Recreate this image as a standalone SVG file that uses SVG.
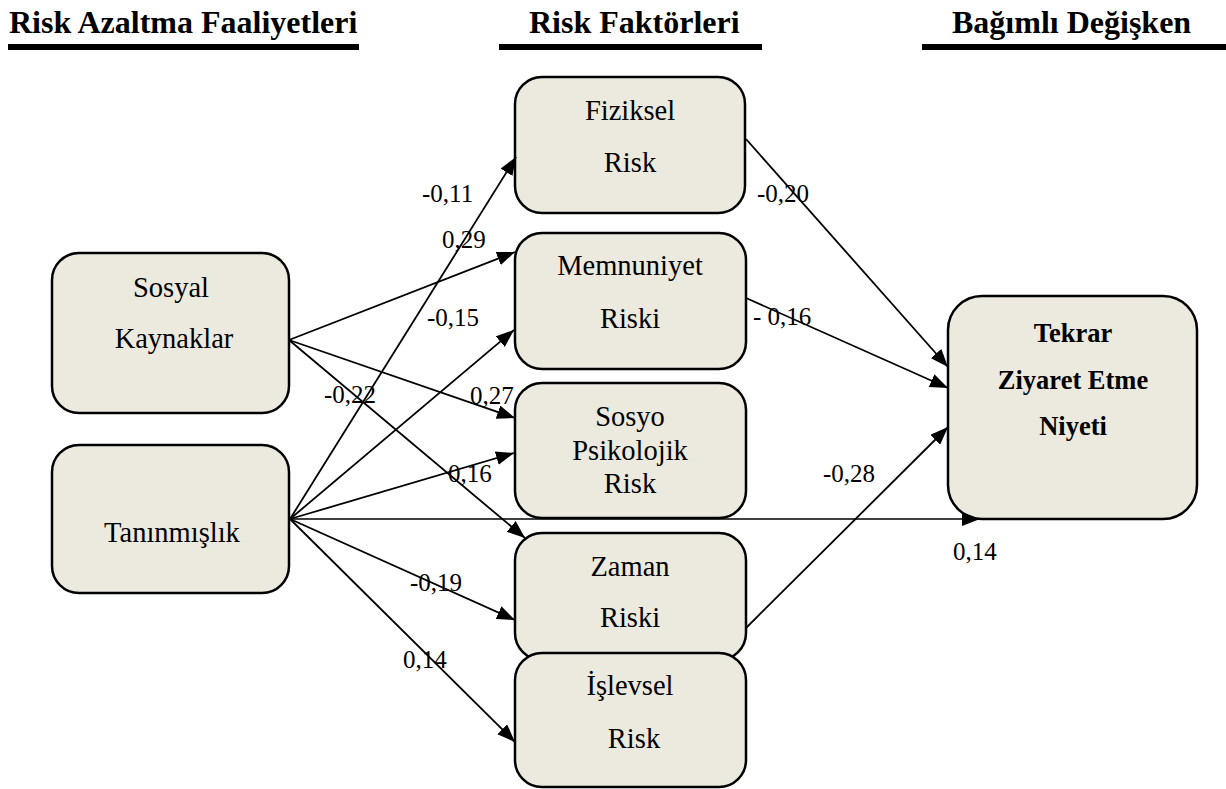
<svg xmlns="http://www.w3.org/2000/svg" width="1226" height="789" viewBox="0 0 1226 789">
  <style>
    .hdr { font-weight: bold; font-size: 32px; }
    .bar { fill: #000; }
    .box { fill: #ECE9DF; stroke: #000; stroke-width: 2.5; }
    .txt { font-size: 28.5px; text-anchor: middle; }
    .btxt { font-size: 26.5px; font-weight: bold; text-anchor: middle; }
    .lbl { font-size: 25px; }
    .edge { stroke: #000; stroke-width: 1.8; fill: none; marker-end: url(#arrow); }
  </style>
  <defs>
    <marker id="arrow" markerUnits="userSpaceOnUse" markerWidth="18" markerHeight="14" refX="18" refY="7" orient="auto">
      <path d="M0,0 L18,7 L0,14 z" fill="#000"/>
    </marker>
  </defs>
  <rect width="1226" height="789" fill="#fff"/>

  <g font-family="Liberation Serif, Times New Roman, serif" fill="#000">
  <!-- column headings -->
  <g id="headers">
    <text class="hdr" x="9" y="33">Risk Azaltma Faaliyetleri</text>
    <rect class="bar" x="8" y="44" width="351" height="6"/>
    <text class="hdr" x="529" y="33">Risk Faktörleri</text>
    <rect class="bar" x="499" y="44" width="263" height="6"/>
    <text class="hdr" x="952" y="33">Bağımlı Değişken</text>
    <rect class="bar" x="922" y="44" width="304" height="6"/>
  </g>

  <!-- independent variables -->
  <g id="sosyal-kaynaklar">
    <rect class="box" x="52" y="253" width="237" height="160" rx="27"/>
    <text class="txt" x="171" y="297">Sosyal</text>
    <text class="txt" x="174" y="348">Kaynaklar</text>
  </g>
  <g id="taninmislik">
    <rect class="box" x="52" y="445" width="237" height="148" rx="27"/>
    <text class="txt" x="172" y="542">Tanınmışlık</text>
  </g>

  <!-- risk factors -->
  <g id="fiziksel-risk">
    <rect class="box" x="515" y="77" width="230" height="136" rx="27"/>
    <text class="txt" x="630" y="120">Fiziksel</text>
    <text class="txt" x="630" y="172">Risk</text>
  </g>
  <g id="memnuniyet-riski">
    <rect class="box" x="515" y="233" width="231" height="136" rx="27"/>
    <text class="txt" x="630" y="275">Memnuniyet</text>
    <text class="txt" x="630" y="328">Riski</text>
  </g>
  <g id="sosyo-psikolojik-risk">
    <rect class="box" x="515" y="383" width="231" height="135" rx="27"/>
    <text class="txt" x="630" y="426">Sosyo</text>
    <text class="txt" x="630" y="460">Psikolojik</text>
    <text class="txt" x="630" y="493">Risk</text>
  </g>
  <g id="zaman-riski">
    <rect class="box" x="515" y="533" width="231" height="127" rx="27"/>
    <text class="txt" x="630" y="576">Zaman</text>
    <text class="txt" x="630" y="627">Riski</text>
  </g>
  <g id="islevsel-risk">
    <rect class="box" x="515" y="653" width="231" height="134" rx="27"/>
    <text class="txt" x="630" y="695">İşlevsel</text>
    <text class="txt" x="634" y="748">Risk</text>
  </g>

  <!-- dependent variable -->
  <g id="tekrar-ziyaret">
    <rect class="box" x="948" y="296" width="249" height="223" rx="34"/>
    <text class="btxt" x="1073" y="342">Tekrar</text>
    <text class="btxt" x="1073" y="389">Ziyaret Etme</text>
    <text class="btxt" x="1073" y="435">Niyeti</text>
  </g>

  <!-- paths with coefficients -->
  <g id="connectors">
    <line class="edge" x1="289" y1="340" x2="515" y2="252"/>
    <line class="edge" x1="289" y1="340" x2="515" y2="418"/>
    <line class="edge" x1="289" y1="340" x2="525" y2="538"/>
    <line class="edge" x1="290" y1="519" x2="516" y2="157"/>
    <line class="edge" x1="290" y1="519" x2="514" y2="330"/>
    <line class="edge" x1="290" y1="519" x2="514" y2="453"/>
    <line class="edge" x1="290" y1="519" x2="980" y2="519" style="stroke-width:1.4"/>
    <line class="edge" x1="290" y1="519" x2="515" y2="620"/>
    <line class="edge" x1="290" y1="519" x2="515" y2="742"/>
    <line class="edge" x1="746" y1="139" x2="948" y2="367"/>
    <line class="edge" x1="746" y1="298" x2="948" y2="388"/>
    <line class="edge" x1="746" y1="628" x2="948" y2="427"/>
  </g>

  <g id="coefficients">
    <text class="lbl" x="422" y="202">-0,11</text>
    <text class="lbl" x="442" y="248">0,29</text>
    <text class="lbl" x="427" y="326">-0,15</text>
    <text class="lbl" x="324" y="403">-0,22</text>
    <text class="lbl" x="470" y="404">0,27</text>
    <text class="lbl" x="448" y="482">0,16</text>
    <text class="lbl" x="410" y="591">-0,19</text>
    <text class="lbl" x="403" y="668">0,14</text>
    <text class="lbl" x="757" y="202">-0,20</text>
    <text class="lbl" x="753" y="325">- 0,16</text>
    <text class="lbl" x="823" y="482">-0,28</text>
    <text class="lbl" x="953" y="560">0,14</text>
  </g>
  </g>
</svg>
